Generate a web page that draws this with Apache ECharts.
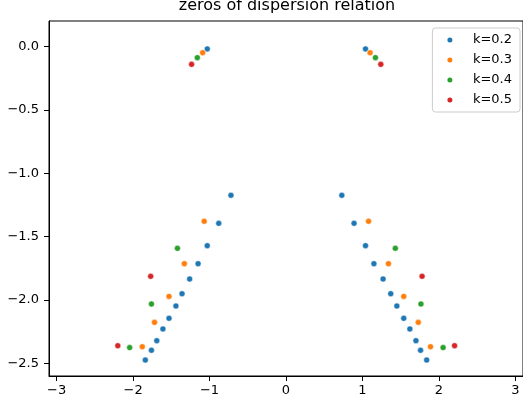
<!DOCTYPE html>
<html>
<head>
<meta charset="utf-8">
<script src="https://cdn.jsdelivr.net/npm/echarts@6/dist/echarts.min.js"></script>
<style>
  html, body { margin: 0; padding: 0; background: #fff; }
  #chart { width: 523px; height: 405px; }
</style>
</head>
<body>
<div id="chart"></div>
<script>
// zeros, one pair of arrays per k
const k02x = [-1.03, -0.72, -0.88, -1.03, -1.15, -1.26, -1.36, -1.44, -1.53, -1.61, -1.69, -1.76, -1.84,
              1.04, 0.73, 0.89, 1.04, 1.15, 1.27, 1.37, 1.45, 1.54, 1.62, 1.70, 1.76, 1.84]
const k02y = [-0.02, -1.175, -1.396, -1.572, -1.714, -1.835, -1.951, -2.048, -2.145, -2.229, -2.321, -2.397, -2.474,
              -0.02, -1.175, -1.396, -1.572, -1.714, -1.835, -1.951, -2.048, -2.145, -2.229, -2.321, -2.397, -2.474]
const k03x = [-1.09, -1.07, -1.33, -1.53, -1.72, -1.88, 1.10, 1.08, 1.34, 1.54, 1.73, 1.89]
const k03y = [-0.05, -1.38, -1.714, -1.972, -2.177, -2.369, -0.05, -1.38, -1.714, -1.972, -2.177, -2.369]
const k04x = [-1.16, -1.42, -1.76, -2.045, 1.17, 1.43, 1.765, 2.055]
const k04y = [-0.089, -1.593, -2.032, -2.376, -0.089, -1.593, -2.032, -2.376]
const k05x = [-1.235, -1.77, -2.20, 1.24, 1.78, 2.205]
const k05y = [-0.142, -1.814, -2.361, -0.142, -1.814, -2.361]

const xTicks = [-3, -2, -1, 0, 1, 2, 3]
const yTicks = [-2.5, -2.0, -1.5, -1.0, -0.5, 0.0]

const groups = [
  { name: 'k=0.2', xs: k02x, ys: k02y, color: '#1f77b4' },
  { name: 'k=0.3', xs: k03x, ys: k03y, color: '#ff7f0e' },
  { name: 'k=0.4', xs: k04x, ys: k04y, color: '#2ca02c' },
  { name: 'k=0.5', xs: k05x, ys: k05y, color: '#d62728' }
]

const font = 'DejaVu Sans'
const minus = v => String(v).replace('-', '\u2212')

let chart = echarts.init(document.getElementById('chart'), null, { renderer: 'canvas' })

let option = {
  animation: false,
  title: {
    text: 'zeros of dispersion relation',
    left: 287,
    textAlign: 'center',
    top: -2,
    padding: 0,
    textStyle: { fontFamily: font, fontSize: 16, fontWeight: 'normal', color: '#000' }
  },
  grid: {
    left: 49, top: 21, width: 478, height: 355,
    show: true, borderColor: '#000', borderWidth: 1, backgroundColor: 'transparent'
  },
  legend: {
    right: 3, top: 28,
    orient: 'vertical',
    align: 'left',
    padding: [5, 8, 5, 15],
    itemGap: 6,
    itemWidth: 36,
    itemHeight: 5,
    icon: 'circle',
    itemStyle: { borderWidth: 0 },
    borderColor: '#cccccc',
    borderWidth: 1,
    borderRadius: 3,
    backgroundColor: 'rgba(255,255,255,0.8)',
    textStyle: { fontFamily: font, fontSize: 13, color: '#000', lineHeight: 14 },
    data: groups.map(g => g.name)
  },
  xAxis: {
    type: 'value',
    min: -3.1, max: 3.1,
    splitLine: { show: false },
    axisLine: { onZero: false, lineStyle: { color: '#000' } },
    axisTick: { length: 5, customValues: xTicks, lineStyle: { color: '#000' } },
    axisLabel: {
      customValues: xTicks, margin: 8,
      fontFamily: font, fontSize: 13, color: '#000',
      formatter: v => minus(v)
    }
  },
  yAxis: {
    type: 'value',
    min: -2.6, max: 0.2,
    splitLine: { show: false },
    axisLine: { onZero: false, lineStyle: { color: '#000' } },
    axisTick: { length: 5, customValues: yTicks, lineStyle: { color: '#000' } },
    axisLabel: {
      customValues: yTicks, margin: 10,
      fontFamily: font, fontSize: 13, color: '#000',
      formatter: v => minus(v.toFixed(1))
    }
  },
  series: groups.map(g => ({
    name: g.name,
    type: 'scatter',
    symbolSize: 6,
    data: g.xs.map((x, i) => [x, g.ys[i]]),
    itemStyle: { color: g.color, borderColor: '#ffffff', borderWidth: 0.5, opacity: 1 }
  }))
}

chart.setOption(option)
</script>
</body>
</html>
